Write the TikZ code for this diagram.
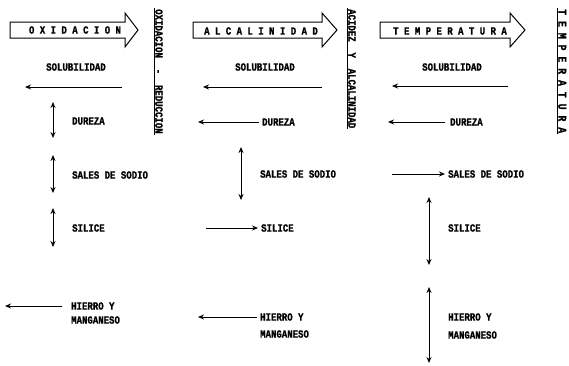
\documentclass[tikz,border=0pt]{standalone}
\usepackage{fontspec}
\newfontfamily\typfont[FakeStretch=0.82, FakeBold=1.2]{Liberation Mono}
\usetikzlibrary{positioning, arrows.meta}

\begin{document}
\begin{tikzpicture}[
        x=1pt, y=-1pt,
        font=\typfont\bfseries\fontsize{11}{13}\selectfont,
        lbl/.style={inner sep=3pt, anchor=west},
        title/.style={inner sep=0pt},
        vlbl/.style={rotate=-90, inner sep=1pt, anchor=south west},
        bigarr/.style={line width=1pt, line join=miter},
        arr/.style={-{Stealth[length=6pt, width=5pt]}, line width=0.9pt},
        dbl/.style={{Stealth[length=6pt, width=5pt]}-{Stealth[length=6pt, width=5pt]}, line width=0.9pt},
    ]
    \useasboundingbox (0,0) rectangle (569,365);

    % ---- Oxidacion (left) ----
    \draw[bigarr] (10,22) -- (125,22) -- (125,13) -- (138,30) -- (125,47) -- (125,38) -- (10,38) -- cycle;
    \node[title] (ox-title) at (75,30) {O~X~I~D~A~C~I~O~N};
    \node[vlbl] (ox-v) at (154,8) {OXIDACION~~-~~REDUCCION};
    \draw (ox-v.south west) -- (ox-v.south east);

    \node[lbl, anchor=center] (ox-sol) at (76,67) {SOLUBILIDAD};
    \node[lbl] (ox-dur) at (69,121) {DUREZA};
    \node[lbl] (ox-sal) at (69,175) {SALES DE SODIO};
    \node[lbl] (ox-sil) at (69,228) {SILICE};
    \node[lbl] (ox-hie) at (68,306) {HIERRO Y};
    \node[lbl] (ox-man) at ([yshift=-14pt]ox-hie.west) {MANGANESO};

    \coordinate (ox-s1) at (122,87);
    \coordinate (ox-s2) at (25,87);
    \coordinate (ox-d1) at (53,102);
    \coordinate (ox-d2) at (53,138);
    \coordinate (ox-a1) at (53,155);
    \coordinate (ox-a2) at (53,193);
    \coordinate (ox-i1) at (53,208);
    \coordinate (ox-i2) at (53,247);
    \coordinate (ox-h1) at (5,306);

    \draw[arr] (ox-s1) -- (ox-s2);
    \draw[dbl] (ox-d1) -- (ox-d2);
    \draw[dbl] (ox-a1) -- (ox-a2);
    \draw[dbl] (ox-i1) -- (ox-i2);
    \draw[arr, shorten <=6pt] (ox-hie.west) -- (ox-h1);

    % ---- Alcalinidad (middle) ----
    \draw[bigarr] (193,22) -- (322,22) -- (322,13) -- (337,30) -- (322,47) -- (322,38) -- (193,38) -- cycle;
    \node[title] (al-title) at (261,31) {A~L~C~A~L~I~N~I~D~A~D};
    \node[vlbl] (al-v) at (347,8) {ACIDEZ~~Y~~ALCALINIDAD};
    \draw (al-v.south west) -- (al-v.south east);

    \node[lbl, anchor=center] (al-sol) at (265,67) {SOLUBILIDAD};
    \node[lbl] (al-dur) at (259,122) {DUREZA};
    \node[lbl] (al-sal) at (257,174) {SALES DE SODIO};
    \node[lbl] (al-sil) at (258,228) {SILICE};
    \node[lbl] (al-hie) at (257,317) {HIERRO Y};
    \node[lbl] (al-man) at ([yshift=-17pt]al-hie.west) {MANGANESO};

    \coordinate (al-s1) at (322,87);
    \coordinate (al-s2) at (203,87);
    \coordinate (al-d1) at (198,122);
    \coordinate (al-a1) at (241,147);
    \coordinate (al-a2) at (241,200);
    \coordinate (al-i1) at (206,228);
    \coordinate (al-h1) at (198,317);

    \draw[arr] (al-s1) -- (al-s2);
    \draw[arr] (al-dur.west) -- (al-d1);
    \draw[dbl] (al-a1) -- (al-a2);
    \draw[arr] (al-i1) -- (al-sil.west);
    \draw[arr] (al-hie.west) -- (al-h1);

    % ---- Temperatura (right) ----
    \draw[bigarr] (380,22) -- (510,22) -- (510,13) -- (525,30) -- (510,47) -- (510,38) -- (380,38) -- cycle;
    \node[title] (te-title) at (450,31) {T~E~M~P~E~R~A~T~U~R~A};
    \node[vlbl, font=\typfont\bfseries\fontsize{12}{14}\selectfont] (te-v) at (557,8) {T~E~M~P~E~R~A~T~U~R~A};
    \draw (te-v.south west) -- (te-v.south east);

    \node[lbl, anchor=center] (te-sol) at (452,67) {SOLUBILIDAD};
    \node[lbl] (te-dur) at (447,122) {DUREZA};
    \node[lbl] (te-sal) at (445,174) {SALES DE SODIO};
    \node[lbl] (te-sil) at (445,228) {SILICE};
    \node[lbl] (te-hie) at (445,317) {HIERRO Y};
    \node[lbl] (te-man) at ([yshift=-18pt]te-hie.west) {MANGANESO};

    \coordinate (te-s1) at (508,86);
    \coordinate (te-s2) at (392,86);
    \coordinate (te-d1) at (388,122);
    \coordinate (te-a1) at (392,174);
    \coordinate (te-i1) at (429,197);
    \coordinate (te-i2) at (429,265);
    \coordinate (te-h1) at (429,287);
    \coordinate (te-h2) at (429,363);

    \draw[arr] (te-s1) -- (te-s2);
    \draw[arr, shorten <=2pt] (te-dur.west) -- (te-d1);
    \draw[arr] (te-a1) -- (te-sal.west);
    \draw[dbl] (te-i1) -- (te-i2);
    \draw[dbl] (te-h1) -- (te-h2);
\end{tikzpicture}
\end{document}
